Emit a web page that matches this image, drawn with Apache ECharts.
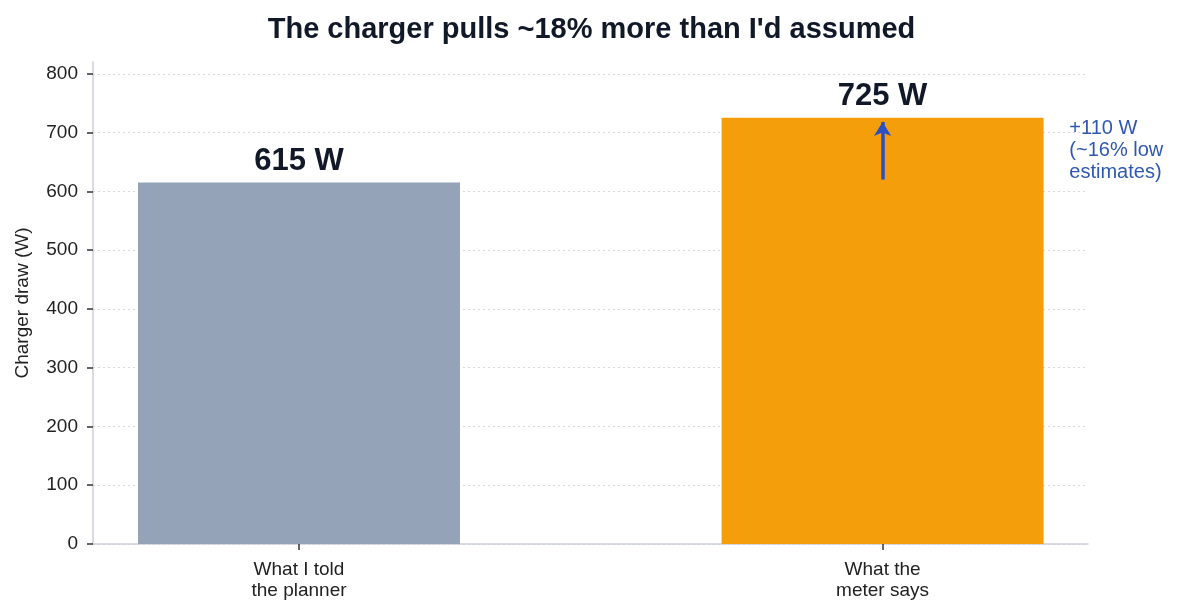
<!DOCTYPE html>
<html><head><meta charset="utf-8">
<script src="https://cdn.jsdelivr.net/npm/echarts@6/dist/echarts.min.js"></script>
<style>html,body{margin:0;padding:0;background:#fff}#c{width:1183px;height:615px}</style>
</head><body><div id="c"></div>
<script>
const categories = ['What I told\nthe planner', 'What the\nmeter says'];
const values = [615, 725];
const barColors = ['#94a3b8', '#f59e0b'];
const valueLabels = ['615 W', '725 W'];
const arrowFrom = 620, arrowTo = 718;
const annotationText = '+110 W\n(~16% low\nestimates)';
const yTicks = [0, 100, 200, 300, 400, 500, 600, 700, 800];

const font = 'Liberation Sans, Arial, Helvetica, sans-serif';
const chart = echarts.init(document.getElementById('c'), null, {renderer: 'canvas'});
chart.setOption({
  animation: false,
  title: {
    text: "The charger pulls ~18% more than I'd assumed",
    left: 'center', top: 10,
    textStyle: {fontFamily: font, fontSize: 29, fontWeight: 'bold', color: '#111827'}
  },
  grid: {left: 93, right: 95, top: 62, bottom: 71},
  xAxis: {
    type: 'value', min: -0.353, max: 1.352,
    axisLine: {show: true, onZero: false, lineStyle: {color: '#cbd0d8', width: 1.5}},
    axisTick: {show: true, customValues: [0, 1], length: 6, lineStyle: {color: '#333', width: 1.5}},
    axisLabel: {customValues: [0, 1], formatter: v => categories[Math.round(v)] || '',
      fontFamily: font, fontSize: 19, color: '#222', lineHeight: 21, margin: 15},
    splitLine: {show: false}
  },
  yAxis: {
    type: 'value', min: 0, max: 820,
    name: 'Charger draw (W)', nameLocation: 'middle', nameGap: 61,
    nameTextStyle: {fontFamily: font, fontSize: 19, color: '#222'},
    axisLine: {show: true, onZero: false, lineStyle: {color: '#cbd0d8', width: 1.5}},
    axisTick: {show: true, customValues: yTicks, length: 6, lineStyle: {color: '#333', width: 1.5}},
    axisLabel: {customValues: yTicks, fontFamily: font, fontSize: 19, color: '#222', margin: 15},
    splitLine: {show: true, customValues: yTicks, lineStyle: {color: '#d6d9de', type: [2, 3], width: 1}}
  },
  series: [{
    type: 'bar',
    barWidth: 322,
    data: values.map((v, i) => ({value: [i, v], itemStyle: {color: barColors[i]},
      label: {show: true, position: 'top', distance: 6, formatter: valueLabels[i],
        fontFamily: font, fontSize: 31, fontWeight: 'bold', color: '#111827'}})),
    markLine: {
      silent: true, symbol: ['none', 'arrow'], symbolSize: [13, 14],
      lineStyle: {color: '#2b4fc4', width: 3.5, type: 'solid'},
      label: {show: false},
      data: [[{coord: [1, arrowFrom]}, {coord: [1, arrowTo]}]]
    },
    markPoint: {
      silent: true, symbol: 'circle', symbolSize: 0,
      data: [{coord: [1.32, 725]}],
      label: {show: true, position: 'inside', formatter: annotationText, align: 'left', verticalAlign: 'top',
        fontFamily: font, fontSize: 20, lineHeight: 22, color: '#2f58b0'}
    }
  }]
});
</script></body></html>
